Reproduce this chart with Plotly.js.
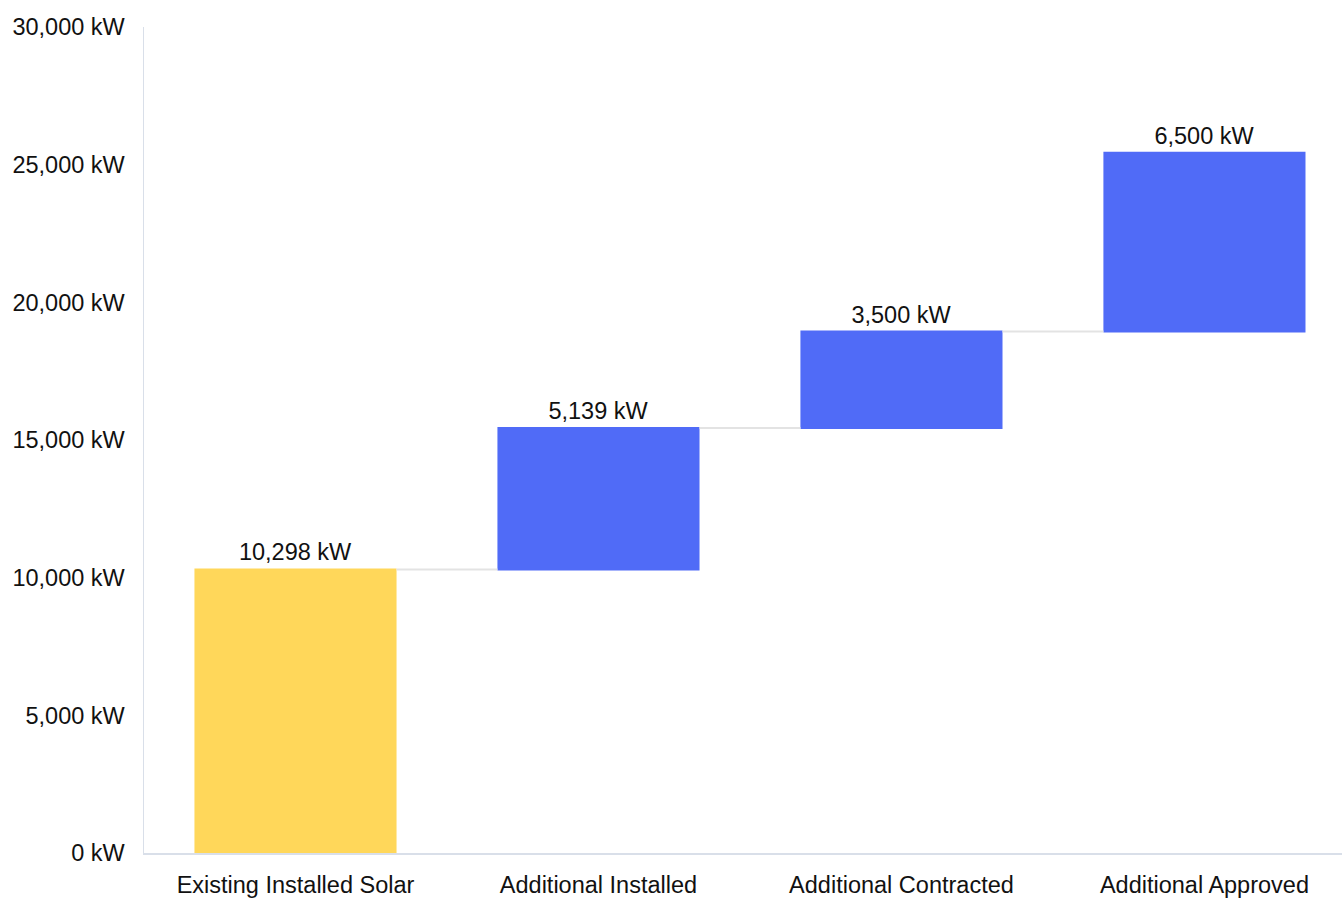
<!DOCTYPE html>
<html>
<head>
<meta charset="utf-8">
<script src="https://cdn.plot.ly/plotly-3.0.1.min.js"></script>
<style>html,body{margin:0;padding:0;background:#fff;}#chart{width:1342px;height:898px;}</style>
</head>
<body>
<div id="chart"></div>
<script>
const categories = ["Existing Installed Solar", "Additional Installed", "Additional Contracted", "Additional Approved"];
const values = [10298, 5139, 3500, 6500];
const measures = ["absolute", "relative", "relative", "relative"];
const labels = values.map(v => v.toLocaleString('en-US') + ' kW');

const trace = {
  type: 'waterfall',
  x: categories,
  y: values,
  measure: measures,
  text: labels,
  textposition: 'outside',
  textfont: {family: 'Liberation Sans, Arial, sans-serif', size: 23.5, color: '#111'},
  cliponaxis: false,
  width: 0.667,
  totals: {marker: {color: '#FFD75A', line: {width: 0}}},
  increasing: {marker: {color: '#506BF7', line: {width: 0}}},
  decreasing: {marker: {color: '#506BF7', line: {width: 0}}},
  connector: {line: {color: '#e3e3e3', width: 2}, mode: 'between'},
  hoverinfo: 'x+y'
};

const layout = {
  width: 1342, height: 898,
  margin: {l: 144, r: 0, t: 27, b: 45},
  paper_bgcolor: '#fff', plot_bgcolor: '#fff',
  showlegend: false,
  font: {family: 'Liberation Sans, Arial, sans-serif', size: 23.5, color: '#111'},
  xaxis: {
    range: [-0.5, 3.454],
    showgrid: false, zeroline: false, showline: true, linecolor: '#d9dfe9', linewidth: 1.5,
    ticks: '', tickfont: {size: 23.5, color: '#111'}, ticklabelstandoff: 10
  },
  yaxis: {
    range: [0, 30000], dtick: 5000, tickformat: ',d', ticksuffix: ' kW',
    showgrid: false, zeroline: false, showline: true, linecolor: '#d9dfe9', linewidth: 1.5,
    ticks: '', tickfont: {size: 23.5, color: '#111'}, ticklabelstandoff: 13
  }
};

Plotly.newPlot('chart', [trace], layout, {displayModeBar: false, staticPlot: true});
</script>
</body>
</html>
